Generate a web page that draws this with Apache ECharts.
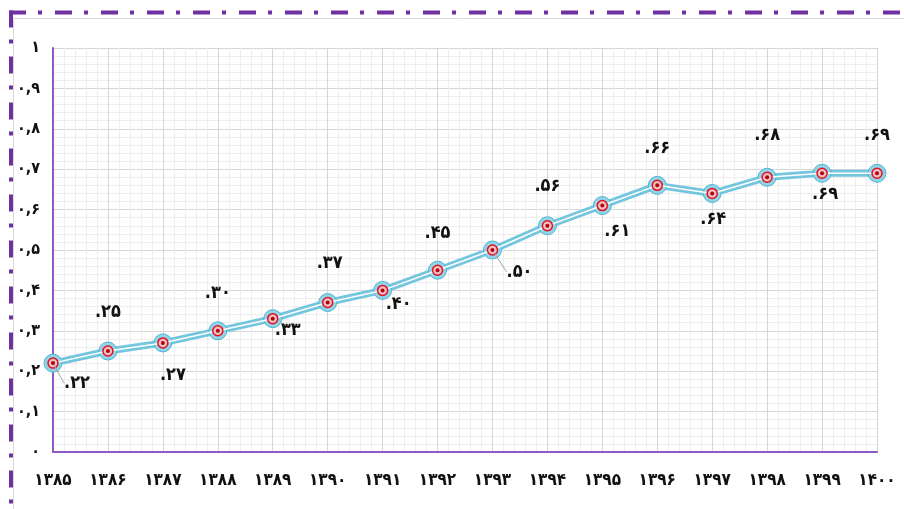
<!DOCTYPE html>
<html>
<head>
<meta charset="utf-8">
<script src="https://cdn.jsdelivr.net/npm/echarts@6/dist/echarts.min.js"></script>
<style>
  html, body { margin: 0; padding: 0; background: #fff; }
  #chart { width: 904px; height: 509px; }
</style>
</head>
<body>
<div id="chart"></div>
<script>
// years (x) and index values (y)
const years = [1385, 1386, 1387, 1388, 1389, 1390, 1391, 1392, 1393, 1394, 1395, 1396, 1397, 1398, 1399, 1400];
const values = [0.22, 0.25, 0.27, 0.30, 0.33, 0.37, 0.40, 0.45, 0.50, 0.56, 0.61, 0.66, 0.64, 0.68, 0.69, 0.69];
const yTicks = ['۰', '۰,۱', '۰,۲', '۰,۳', '۰,۴', '۰,۵', '۰,۶', '۰,۷', '۰,۸', '۰,۹', '۱'];

// where each data label sits relative to its point (dx, dy)
const labelShift = [
  [24, 20], [0, -39], [10, 32], [0, -37], [15, 12], [2, -39], [16, 14], [0, -37],
  [27, 22], [0, -39], [15, 26], [0, -37], [1, 26], [0, -42], [3, 21], [0, -38]
];
// labels that get a small guide line
const leaderIdx = [0, 8];

const faDigits = '۰۱۲۳۴۵۶۷۸۹';
const toFa = (s) => String(s).replace(/[0-9]/g, d => faDigits[+d]);

const FONT = '"DejaVu Sans Condensed", "DejaVu Sans", sans-serif';
const points = years.map((y, i) => [y, values[i]]);
const labelPoints = points.map((p, i) => ({
  value: p,
  labelLine: { show: leaderIdx.includes(i) }
}));

const chart = echarts.init(document.getElementById('chart'));

chart.setOption({
  backgroundColor: '#fff',
  animation: false,
  grid: { left: 53, right: 27, top: 48, bottom: 57 },
  xAxis: {
    type: 'value',
    min: 1385,
    max: 1400,
    interval: 1,
    axisLine: { show: true, onZero: false, lineStyle: { color: '#9258c8', width: 2 } },
    axisTick: { show: false },
    axisLabel: {
      margin: 20,
      color: '#111',
      fontFamily: FONT,
      fontWeight: 'bold',
      fontSize: 17,
      formatter: v => toFa(v)
    },
    splitLine: { show: true, lineStyle: { color: '#d6d6d6', width: 1 } },
    minorTick: { show: false, splitNumber: 5 },
    minorSplitLine: { show: true, lineStyle: { color: '#eeeeee', width: 1 } }
  },
  yAxis: {
    type: 'value',
    min: 0,
    max: 1,
    interval: 0.1,
    axisLine: { show: true, lineStyle: { color: '#9258c8', width: 2 } },
    axisTick: { show: false },
    axisLabel: {
      margin: 13,
      color: '#111',
      fontFamily: FONT,
      fontWeight: 'bold',
      fontSize: 16,
      formatter: v => yTicks[Math.round(v * 10)]
    },
    splitLine: { show: true, lineStyle: { color: '#d6d6d6', width: 1 } },
    minorTick: { show: false, splitNumber: 5 },
    minorSplitLine: { show: true, lineStyle: { color: '#eeeeee', width: 1 } }
  },
  graphic: [
    { type: 'line', silent: true, shape: { x1: 13.5, y1: 18.5, x2: 904, y2: 18.5 },
      style: { stroke: '#d9d9d9', lineWidth: 1 } },
    { type: 'line', silent: true, shape: { x1: 13.5, y1: 18.5, x2: 13.5, y2: 509 },
      style: { stroke: '#d9d9d9', lineWidth: 1 } },
    { type: 'line', silent: true, shape: { x1: 9, y1: 12.5, x2: 904, y2: 12.5 },
      style: { stroke: '#7030a0', lineWidth: 4, lineDash: [17, 12, 4, 13] } },
    { type: 'line', silent: true, shape: { x1: 11, y1: 10.5, x2: 11, y2: 509 },
      style: { stroke: '#7030a0', lineWidth: 4, lineDash: [17, 12, 4, 13] } }
  ],
  series: [
    {
      type: 'line',
      data: points,
      symbol: 'circle',
      symbolSize: 18,
      lineStyle: { color: '#74c6de', width: 7 },
      itemStyle: { color: '#8fd4e8', borderColor: '#52b4d0', borderWidth: 1 },
      z: 2
    },
    {
      type: 'line',
      data: points,
      symbol: 'circle',
      symbolSize: 10,
      lineStyle: { color: '#ffffff', width: 1.5 },
      itemStyle: { color: '#f3c0c5', borderColor: '#e3101d', borderWidth: 1.5 },
      z: 3
    },
    {
      type: 'line',
      data: labelPoints,
      symbol: 'circle',
      symbolSize: 4,
      lineStyle: { opacity: 0 },
      itemStyle: { color: '#b0000f' },
      z: 4,
      label: {
        show: true,
        position: 'inside',
        color: '#111',
        fontFamily: FONT,
        fontWeight: 'bold',
        fontSize: 18,
        formatter: p => '.' + toFa(Math.round(p.value[1] * 100))
      },
      labelLine: { lineStyle: { color: '#a6a6a6', width: 1 } },
      labelLayout: p => ({ dx: labelShift[p.dataIndex][0], dy: labelShift[p.dataIndex][1] })
    }
  ]
});
</script>
</body>
</html>
